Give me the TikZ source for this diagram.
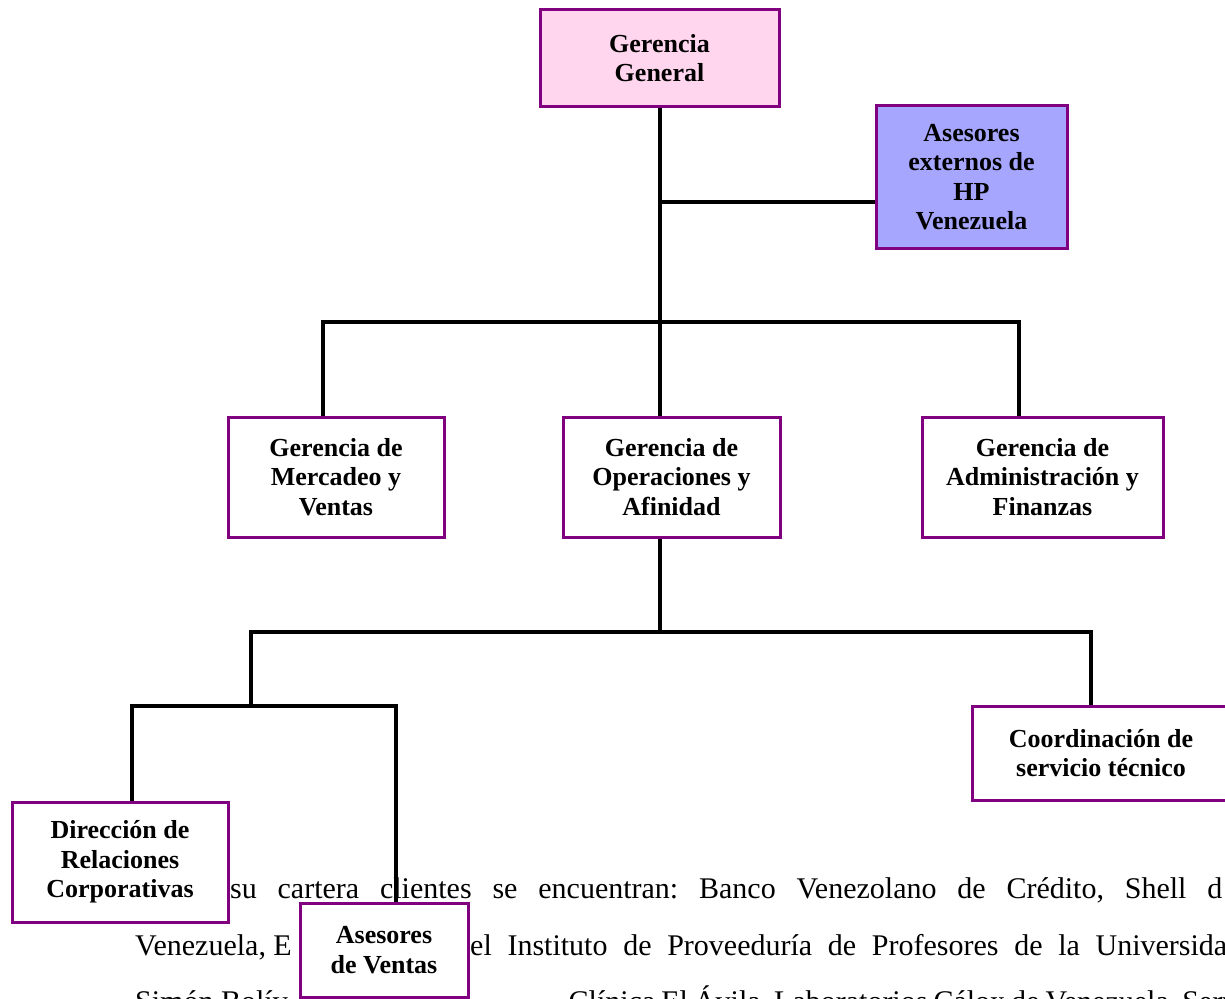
\documentclass[tikz,border=0pt]{standalone}
\usepackage{fontspec}
\setmainfont{Liberation Serif}
\definecolor{boxpurple}{RGB}{128,0,128}
\definecolor{pinkfill}{RGB}{255,214,238}
\definecolor{lavfill}{RGB}{166,166,255}
\tikzset{
  orgbox/.style={draw=boxpurple, line width=3pt, fill=white, align=center,
    inner sep=0pt, font=\bfseries\fontsize{26}{29.5}\selectfont},
  link/.style={line width=3.2pt, black},
  body/.style={inner sep=0pt, anchor=base west, font=\fontsize{30}{36}\selectfont\frenchspacing}
}
\begin{document}
\begin{tikzpicture}[x=1pt,y=-1pt]
\clip (0,0) rectangle (1225,998);
\path[use as bounding box] (0,0) rectangle (1225,998);
\fill[white] (0,0) rectangle (1225,998);

% background text
\node[body] (t1) at (230,898) {\makebox[992pt][s]{su cartera clientes se encuentran: Banco Venezolano de Crédito, Shell d}};
\node[body] (t2a) at (135,955) {Venezuela, E};
\node[body] (t2b) at (470,955) {\makebox[772pt][s]{el Instituto de Proveeduría de Profesores de la Universidad}};
\node[body] (t3a) at (135,1011) {Simón Bolív};
\node[body] (t3b) at (555,1011) {\makebox[682pt][s]{, Clínica El Ávila, Laboratorios Cálox de Venezuela, Serv}};

% junction coordinates
\coordinate (trunk) at (660,0);
\coordinate (xe) at (660,202);
\coordinate (bar2) at (0,632);
\coordinate (jl) at (251,706);
\coordinate (xd) at (132,706);
\coordinate (xv) at (396,706);
\coordinate (xm) at (323,322);
\coordinate (xa) at (1019,322);
\coordinate (xc) at (1091,632);

% boxes
\node[orgbox, fill=pinkfill, minimum width=239pt, minimum height=96pt] (gg) at (659.5,58) {Gerencia\\General};
\node[orgbox, fill=lavfill, minimum width=191pt, minimum height=143pt] (ase) at (971.5,177) {Asesores\\externos de\\HP\\Venezuela};
\node[orgbox, minimum width=216pt, minimum height=120pt] (mv) at (336,477) {Gerencia de\\Mercadeo y\\Ventas};
\node[orgbox, minimum width=217pt, minimum height=120pt] (op) at (671.5,477) {Gerencia de\\Operaciones y\\Afinidad};
\node[orgbox, minimum width=241pt, minimum height=120pt] (ad) at (1042.5,477) {Gerencia de\\Administración y\\Finanzas};
\node[orgbox, minimum width=258pt, minimum height=94pt] (co) at (1101,753) {Coordinación de\\servicio técnico};
\node[orgbox, minimum width=216pt, minimum height=120pt] (dr) at (120,862) {Dirección de\\Relaciones\\Corporativas};
\node[orgbox, minimum width=168pt, minimum height=94pt] (av) at (384,950) {Asesores\\de Ventas};

% connectors
\draw[link] (gg.south -| trunk) -- (op.north -| trunk);
\draw[link] (xe -| ase.west) -- (xe);
\draw[link] (xm |- mv.north) -- (xm) -- (xa) -- (xa |- ad.north);
\draw[link] (op.south -| trunk) -- (trunk |- bar2);
\draw[link] (jl) -- (jl |- bar2) -- (xc) -- (xc |- co.north);
\draw[link] (xd |- dr.north) -- (xd) -- (xv) -- (xv |- av.north);
\end{tikzpicture}
\end{document}
